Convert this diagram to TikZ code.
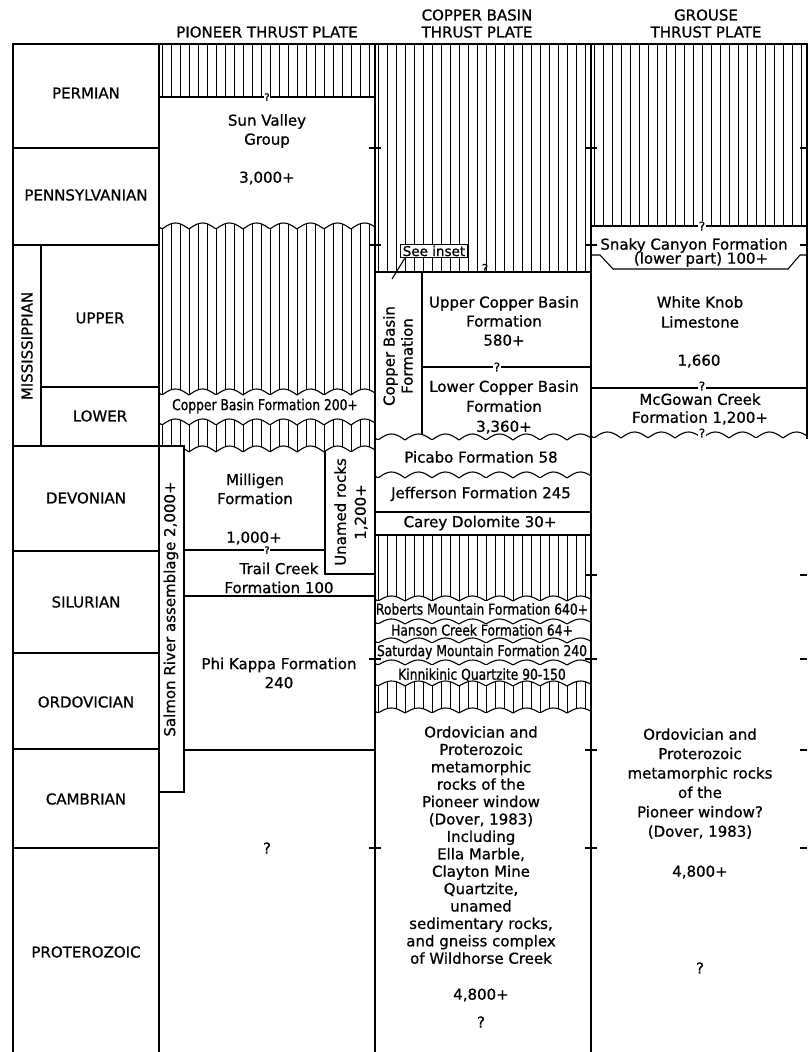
\documentclass[tikz,border=0pt]{standalone}
\usepackage{fontspec}
\setmainfont[RawFeature={embolden=0.8}]{DejaVu Sans}
\newfontfamily\narrowfont[FakeStretch=0.82,RawFeature={embolden=0.8}]{DejaVu Sans}
\usetikzlibrary{patterns.meta}
\tikzset{
  bordln/.style={line width=1.3pt, line cap=rect},
  thinln/.style={line width=1.1pt},
  waveln/.style={line width=1.1pt, line join=round},
  tickln/.style={line width=1.3pt},
  hatchfl/.style={pattern={Lines[angle=90,distance=9pt,line width=1pt]}},
  periodlbl/.style={font=\fontsize{15}{18}\selectfont, inner sep=0pt},
  unitlbl/.style={font=\fontsize{15}{19}\selectfont, align=center, inner sep=0pt},
  thinlbl/.style={font=\narrowfont\fontsize{15}{18}\selectfont, inner sep=0pt},
  qmark/.style={font=\fontsize{12}{12}\selectfont, inner sep=0.8pt, fill=white},
}
% scalloped unconformity from x=#1 to x=#2, cusps on y=#3, hump height #4
\newcommand{\wv}[4]{plot[domain=#1:#2, samples=109] (\x,{#3-#4*abs(sin(6.66667*\x))})}
\newcommand{\wvto}[4]{-- plot[domain=#1:#2, samples=109] (\x,{#3-#4*abs(sin(6.66667*\x))})}

\begin{document}
\begin{tikzpicture}[x=1pt, y=-1pt]
  \useasboundingbox (0,0) rectangle (809,1052);
  \fill[white] (0,0) rectangle (809,1052);

  % ----- headers -----
  \node[periodlbl] (hdpio) at (267,32) {PIONEER THRUST PLATE};
  \node[periodlbl, align=center, font=\fontsize{15}{17}\selectfont] (hdcop) at (477,23.5) {COPPER BASIN\\THRUST PLATE};
  \node[periodlbl, align=center, font=\fontsize{15}{17}\selectfont] (hdgro) at (706,23.5) {GROUSE\\THRUST PLATE};

  % ----- hatched (missing) intervals -----
  \fill[hatchfl] (159,44) rectangle (375,97);
  \fill[hatchfl] \wv{159}{375}{229}{6} \wvto{375}{159}{395}{6} -- cycle;
  \fill[hatchfl] \wv{159}{375}{425}{6} \wvto{375}{184}{452}{6} -- (184,446) -- (159,446) -- cycle;
  \fill[hatchfl] (375,44) rectangle (591,272);
  \fill[hatchfl] (375,535) -- (591,535) \wvto{591}{375}{601}{5} -- cycle;
  \fill[hatchfl] \wv{375}{591}{686}{5} \wvto{591}{375}{713}{5} -- cycle;
  \fill[hatchfl] (591,44) rectangle (807,226);

  % ----- frame and time column -----
  \draw[bordln] (13,44) -- (807,44);
  \draw[bordln] (13,44) -- (13,1052);
  \draw[bordln] (159,44) -- (159,1052);
  \draw[bordln] (375,44) -- (375,1052);
  \draw[bordln] (591,44) -- (591,1052);
  \draw[bordln] (807,44) -- (807,438);
  \foreach \yy in {148,245,446,551,653,749,848}
    \draw[bordln] (13,\yy) -- (159,\yy);
  \draw[bordln] (41,245) -- (41,446);
  \draw[bordln] (41,387) -- (159,387);

  \node[periodlbl] (permian) at (86,93) {PERMIAN};
  \node[periodlbl] (penn) at (86,195) {PENNSYLVANIAN};
  \node[periodlbl, rotate=90] (missi) at (27,346) {MISSISSIPPIAN};
  \node[periodlbl] (upper) at (100,318) {UPPER};
  \node[periodlbl] (lower) at (100,416) {LOWER};
  \node[periodlbl] (devon) at (86,498) {DEVONIAN};
  \node[periodlbl] (silur) at (86,602) {SILURIAN};
  \node[periodlbl] (ordov) at (86,702) {ORDOVICIAN};
  \node[periodlbl] (cambr) at (86,799) {CAMBRIAN};
  \node[periodlbl] (prot) at (86,952) {PROTEROZOIC};

  % ----- pioneer thrust plate -----
  \draw[thinln] (159,97) -- (375,97);
  \draw[waveln] \wv{159}{375}{229}{6};
  \draw[waveln] \wv{159}{375}{395}{6};
  \draw[waveln] \wv{159}{375}{425}{6};
  \draw[waveln] \wv{184}{375}{452}{6};
  \draw[bordln] (159,446) rectangle (184,792);
  \draw[thinln] (325,451) -- (325,574) -- (375,574);
  \draw[thinln] (184,550) -- (325,550);
  \draw[thinln] (184,596) -- (375,596);
  \draw[thinln] (184,750) -- (375,750);

  \node[qmark, font=\fontsize{10}{10}\selectfont] (qsv) at (267,97) {?};
  \node[unitlbl] (sunval) at (267,131) {Sun Valley\\Group};
  \node[unitlbl] (sunvalth) at (267,178) {3,000+};
  \node[thinlbl] (cbfm) at (265,406) {Copper Basin Formation 200+};
  \node[unitlbl, rotate=90] (salmon) at (171,609) {Salmon River assemblage 2,000+};
  \node[unitlbl] (milli) at (255,489) {Milligen\\Formation};
  \node[unitlbl] (millith) at (254,538) {1,000+};
  \node[qmark, font=\fontsize{10}{10}\selectfont] (qmil) at (267,550) {?};
  \node[unitlbl, rotate=90, font=\fontsize{15}{20}\selectfont] (unamed) at (351,512) {Unamed rocks\\1,200+};
  \node[unitlbl] (trail) at (279,578) {Trail Creek\\Formation 100};
  \node[unitlbl] (phik) at (279,673) {Phi Kappa Formation\\240};
  \node[unitlbl] (qpio) at (267,848) {?};

  % ----- copper basin thrust plate -----
  \draw[thinln] (375,272) -- (591,272);
  \draw[thinln] (422,272) -- (422,435);
  \draw[thinln] (422,367) -- (591,367);
  \draw[waveln] \wv{375}{591}{440}{6};
  \draw[waveln] \wv{375}{591}{478}{6};
  \draw[thinln] (375,512) -- (591,512);
  \draw[thinln] (375,535) -- (591,535);
  \draw[waveln] \wv{375}{591}{601}{5};
  \draw[waveln] \wv{375}{591}{624}{5};
  \draw[waveln] \wv{375}{591}{643}{5};
  \draw[waveln] \wv{375}{591}{665}{5};
  \draw[waveln] \wv{375}{591}{686}{5};
  \draw[waveln] \wv{375}{591}{713}{5};

  \node[draw, thinln, fill=white, font=\fontsize{13.5}{13.5}\selectfont, inner xsep=2.5pt, inner ysep=1.5pt] (inset) at (434,251) {See inset};
  \coordinate (insetpt) at (392,279);
  \draw[thinln] ([xshift=5pt]inset.south west) -- (insetpt);
  \node[unitlbl, anchor=south, font=\fontsize{12}{12}\selectfont] (qcb) at (485,273) {?};
  \node[unitlbl, rotate=90, font=\fontsize{15}{18}\selectfont] (cbrot) at (398,356) {Copper Basin\\Formation};
  \node[unitlbl] (ucb) at (504,321) {Upper Copper Basin\\Formation\\580+};
  \node[qmark] (qucb) at (497,367) {?};
  \node[unitlbl, font=\fontsize{15}{20}\selectfont] (lcb) at (504,407) {Lower Copper Basin\\Formation\\3,360+};
  \node[unitlbl] (picabo) at (481,457) {Picabo Formation 58};
  \node[unitlbl] (jeff) at (481,494) {Jefferson Formation 245};
  \node[unitlbl] (carey) at (480,523) {Carey Dolomite 30+};
  \node[thinlbl] (roberts) at (482,609) {Roberts Mountain Formation 640+};
  \node[thinlbl] (hanson) at (482,630) {Hanson Creek Formation 64+};
  \node[thinlbl] (satur) at (482,652) {Saturday Mountain Formation 240};
  \node[thinlbl] (kinni) at (482,675) {Kinnikinic Quartzite 90-150};
  \node[unitlbl, font=\fontsize{15}{17.4}\selectfont] (cbmeta) at (481,845) {Ordovician and\\Proterozoic\\metamorphic\\rocks of the\\Pioneer window\\(Dover, 1983)\\Including\\Ella Marble,\\Clayton Mine\\Quartzite,\\unamed\\sedimentary rocks,\\and gneiss complex\\of Wildhorse Creek};
  \node[unitlbl] (cbmetath) at (481,995) {4,800+};
  \node[unitlbl] (qcbmeta) at (481,1022) {?};

  % ----- grouse thrust plate -----
  \draw[thinln] (591,226) -- (807,226);
  \draw[thinln] (591,255) -- (600,255) -- (613,269) -- (788,269) -- (800,255) -- (807,255);
  \draw[thinln] (591,388) -- (807,388);
  \draw[waveln] \wv{591}{807}{438}{6};

  \node[qmark] (qgr) at (702,226) {?};
  \node[unitlbl] (snaky) at (694,245.5) {Snaky Canyon Formation};
  \node[unitlbl] (snakylow) at (701,259.5) {(lower part) 100+};
  \node[unitlbl, font=\fontsize{15}{20}\selectfont] (whiteknob) at (700,312) {White Knob\\Limestone};
  \node[unitlbl] (whiteknobth) at (699,361) {1,660};
  \node[qmark] (qwk) at (702,386) {?};
  \node[unitlbl, font=\fontsize{15}{18}\selectfont] (mcgowan) at (700,409) {McGowan Creek\\Formation 1,200+};
  \node[qmark] (qmcg) at (702,433) {?};
  \node[unitlbl, font=\fontsize{15}{19.4}\selectfont] (grmeta) at (700,783.5) {Ordovician and\\Proterozoic\\metamorphic rocks\\of the\\Pioneer window?\\(Dover, 1983)};
  \node[unitlbl] (grmetath) at (700,872) {4,800+};
  \node[unitlbl] (qgrmeta) at (700,968) {?};

  % ----- period ticks on plate borders -----
  \foreach \yy in {148,245,659,848}
    \draw[tickln] (369,\yy) -- (381,\yy);
  \draw[tickln] (369,750) -- (375,750);
  \foreach \yy in {148,245,575,659,750,848}
    \draw[tickln] (585,\yy) -- (597,\yy);
  \foreach \yy in {148,245,575,659,750,848}
    \draw[tickln] (800,\yy) -- (807,\yy);
\end{tikzpicture}
\end{document}
